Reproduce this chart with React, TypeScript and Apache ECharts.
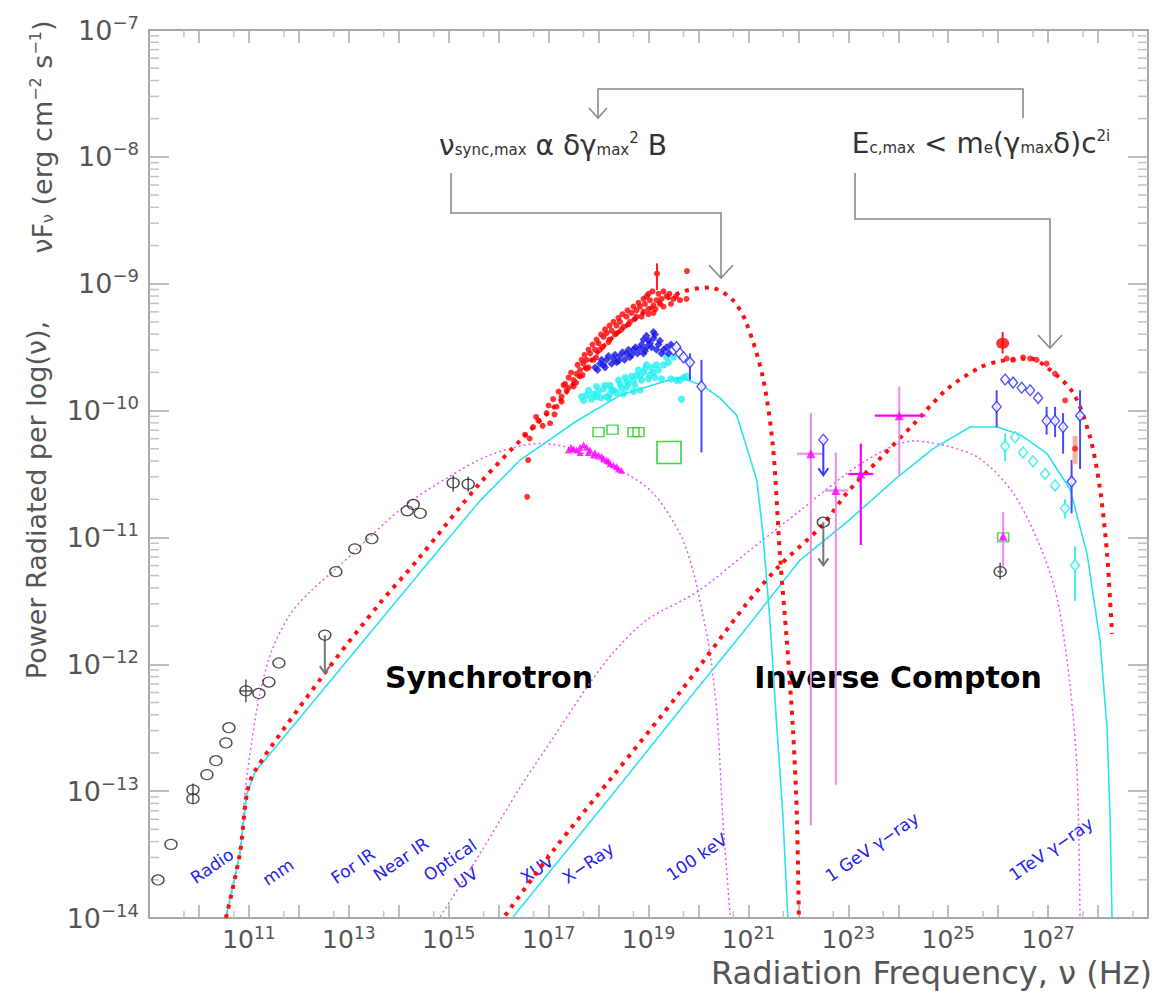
import React, { useEffect, useRef } from "react";
import * as echarts from "echarts";

// Axis ranges in log10 units
const X_MIN = 9;
const X_MAX = 29;
const Y_MIN = -14;
const Y_MAX = -7;

const xLabelExponents = [11, 13, 15, 17, 19, 21, 23, 25, 27];
const yLabelExponents = [-14, -13, -12, -11, -10, -9, -8, -7];

// ---- model curves: [log10 nu (Hz), log10 nuFnu (erg cm^-2 s^-1)] ----
const redSynchrotron = [
  [10.54, -14.0], [10.82, -13.49], [10.96, -13.02], [11.12, -12.84], [12.52, -12.07],
  [13.62, -11.52], [14.37, -11.18], [15.63, -10.57], [16.57, -10.18], [17.23, -9.92],
  [18.03, -9.52], [18.83, -9.25], [19.63, -9.07], [20.23, -9.03], [20.69, -9.13],
  [20.97, -9.32], [21.29, -9.74], [21.49, -10.28], [21.63, -11.13], [21.77, -11.82],
  [21.89, -12.5], [21.97, -13.19], [22.01, -14.0],
];
const cyanSynchrotron = [
  [10.54, -14.0], [10.82, -13.49], [10.96, -13.02], [11.12, -12.85], [14.63, -11.18],
  [15.63, -10.71], [16.43, -10.39], [17.57, -10.08], [18.43, -9.88], [19.23, -9.78],
  [19.63, -9.74], [20.07, -9.8], [20.43, -9.9], [20.77, -10.04], [21.17, -10.55],
  [21.29, -10.97], [21.43, -11.65], [21.57, -12.5], [21.69, -13.19], [21.79, -14.0],
];
const magentaSynchrotron = [
  [10.54, -14.0], [10.82, -13.49], [10.92, -13.02], [11.06, -12.6], [11.22, -12.23],
  [11.46, -11.89], [11.82, -11.61], [12.22, -11.43], [12.82, -11.22], [14.09, -10.76],
  [14.97, -10.53], [15.83, -10.35], [16.83, -10.26], [17.37, -10.29], [18.43, -10.47],
  [19.09, -10.65], [19.63, -10.97], [19.89, -11.26], [20.04, -11.52], [20.23, -11.91],
  [20.38, -12.44], [20.49, -13.23], [20.64, -14.0],
];
const redInverseCompton = [
  [16.13, -13.98], [17.09, -13.47], [18.29, -12.88], [19.63, -12.22], [20.97, -11.52],
  [21.63, -11.22], [22.49, -10.9], [22.97, -10.65], [23.63, -10.38], [24.3, -10.11],
  [24.98, -9.83], [25.64, -9.66], [26.04, -9.61], [26.64, -9.59], [26.98, -9.66],
  [27.5, -9.86], [27.84, -10.21], [28.04, -10.62], [28.18, -11.13], [28.28, -11.76],
];
const cyanInverseCompton = [
  [16.29, -13.99], [18.29, -13.02], [19.63, -12.36], [20.97, -11.71], [22.03, -11.18],
  [22.97, -10.88], [23.97, -10.53], [24.7, -10.3], [25.44, -10.13], [25.98, -10.13],
  [26.44, -10.19], [26.98, -10.34], [27.44, -10.62], [27.78, -11.13], [28.04, -11.82],
  [28.18, -12.5], [28.24, -13.19], [28.28, -14.0],
];
const magentaInverseCompton = [
  [14.83, -13.99], [15.63, -13.49], [16.43, -12.97], [17.09, -12.58], [17.77, -12.18],
  [18.29, -11.91], [18.97, -11.65], [19.97, -11.43], [20.97, -11.12], [22.03, -10.79],
  [23.29, -10.41], [24.3, -10.24], [24.98, -10.28], [25.64, -10.38], [26.3, -10.65],
  [26.84, -11.07], [27.18, -11.48], [27.44, -12.17], [27.58, -12.85], [27.64, -14.01],
];

// ---- data ----
const blackCircles = [
  [9.18, -13.7], [9.44, -13.42], [9.88, -12.99], [9.88, -13.06], [10.16, -12.87],
  [10.34, -12.76], [10.54, -12.62], [10.6, -12.5], [10.94, -12.21], [11.2, -12.23],
  [11.4, -12.14], [11.6, -11.99], [12.52, -11.77], [12.74, -11.27], [13.12, -11.09],
  [13.46, -11.01], [14.17, -10.79], [14.29, -10.74], [14.43, -10.81], [15.09, -10.57],
  [15.39, -10.58], [22.5, -10.88], [26.04, -11.27],
];
const blackErrors = [
  [10.94, -12.21, 10.82, 11.06, -12.12, -12.3],
  [9.88, -13.02, 9.88, 9.88, -12.94, -13.1],
  [15.09, -10.57, 15.09, 15.09, -10.51, -10.64],
  [15.39, -10.58, 15.39, 15.39, -10.52, -10.64],
  [26.04, -11.27, 25.99, 26.09, -11.2, -11.33],
];
const blackUpperLimits = [
  [12.52, -11.77, -12.07],
  [22.5, -10.88, -11.22],
];
const redXray = [
  [16.53, -10.19], [16.69, -10.13], [16.8, -10.08], [16.96, -10.02], [17.03, -10.1],
  [17.16, -9.97], [17.09, -9.91], [17.26, -9.89], [17.26, -9.93], [17.36, -9.84],
  [17.33, -9.79], [17.5, -9.76], [17.5, -9.81], [17.56, -9.71], [17.63, -9.68],
  [17.7, -9.63], [17.76, -9.6], [17.83, -9.55], [17.93, -9.52], [18.0, -9.47],
  [18.1, -9.42], [18.16, -9.39], [18.26, -9.37], [18.36, -9.33], [18.43, -9.3],
  [18.56, -9.26], [18.66, -9.23], [18.76, -9.21], [18.83, -9.18], [18.93, -9.16],
  [18.96, -9.1], [19.03, -9.13], [19.1, -9.17], [19.16, -9.13], [19.26, -9.12],
  [19.36, -9.1], [19.5, -9.12], [19.63, -9.13], [19.76, -9.12],
  [17.63, -9.73], [17.76, -9.67], [17.9, -9.6], [18.03, -9.52], [18.2, -9.46],
  [18.36, -9.39], [18.5, -9.34], [18.63, -9.3], [18.76, -9.26], [18.9, -9.22],
  [19.0, -9.2], [19.1, -9.23], [19.23, -9.16],
  [17.2, -9.85], [17.3, -9.8], [17.4, -9.74], [17.45, -9.7], [17.58, -9.64],
  [17.66, -9.6], [17.72, -9.56], [17.8, -9.52], [17.88, -9.48], [17.96, -9.44],
  [18.05, -9.4], [18.13, -9.36], [18.22, -9.33], [18.3, -9.3], [18.4, -9.27],
  [18.48, -9.24], [18.58, -9.21], [18.7, -9.18], [18.8, -9.15], [18.9, -9.12],
  [19.0, -9.08], [19.08, -9.06], [19.2, -9.08], [19.3, -9.06], [19.42, -9.08],
  [19.55, -9.1], [17.4, -9.82], [17.55, -9.78], [17.68, -9.72], [17.8, -9.66],
  [17.95, -9.58], [18.08, -9.5], [18.22, -9.44], [18.33, -9.4], [18.46, -9.36],
  [18.6, -9.32], [18.72, -9.28], [18.86, -9.26], [19.0, -9.24], [19.14, -9.2],
  [19.3, -9.18], [19.45, -9.16], [16.62, -10.22], [16.75, -10.05], [16.88, -10.12],
  [17.0, -9.96], [17.12, -10.03],
  [16.57, -10.68], [16.59, -10.39], [19.17, -8.92], [19.77, -8.9],
];
const redErrors = [
  [19.17, -8.92, 19.12, 19.22, -8.84, -9.05],
  [26.09, -9.47, 26.09, 26.09, -9.38, -9.55],
];
const blueXray = [
  [17.93, -9.66], [18.03, -9.63], [18.1, -9.64], [18.16, -9.6], [18.3, -9.59],
  [18.36, -9.62], [18.43, -9.57], [18.56, -9.55], [18.63, -9.58], [18.7, -9.52],
  [18.83, -9.51], [18.9, -9.55], [18.96, -9.5], [19.03, -9.47], [18.9, -9.44],
  [19.1, -9.43], [18.96, -9.41], [19.1, -9.38], [19.23, -9.45], [19.16, -9.52],
  [19.26, -9.55], [19.36, -9.5],
  [17.98, -9.68], [18.06, -9.6], [18.13, -9.66], [18.2, -9.57], [18.26, -9.63],
  [18.33, -9.56], [18.4, -9.61], [18.48, -9.54], [18.52, -9.6], [18.6, -9.52],
  [18.66, -9.56], [18.74, -9.5], [18.78, -9.55], [18.86, -9.48], [18.93, -9.53],
  [19.0, -9.45], [19.06, -9.5], [19.13, -9.4], [19.2, -9.48], [19.3, -9.52],
  [19.4, -9.55], [19.45, -9.48],
];
const blueDiamonds = [
  [19.5, -9.52], [19.56, -9.5], [19.63, -9.55], [19.7, -9.58], [19.83, -9.62],
  [20.06, -9.81], [22.5, -10.23], [25.97, -9.97], [26.14, -9.755], [26.3, -9.78],
  [26.47, -9.82], [26.64, -9.84], [26.8, -9.9], [26.97, -10.08], [27.14, -10.08],
  [27.3, -10.13], [27.64, -10.04], [27.47, -10.56],
];
const blueErrors = [
  [19.83, -9.62, 19.83, 19.83, -9.55, -9.76],
  [20.06, -9.81, 20.06, 20.06, -9.6, -10.33],
  [25.97, -9.97, 25.97, 25.97, -9.84, -10.13],
  [26.97, -10.08, 26.97, 26.97, -9.97, -10.19],
  [27.14, -10.08, 27.14, 27.14, -9.97, -10.21],
  [27.3, -10.13, 27.3, 27.3, -10.02, -10.34],
  [27.64, -10.04, 27.64, 27.64, -9.84, -10.46],
  [27.47, -10.56, 27.47, 27.47, -10.39, -10.81],
];
const blueUpperLimits = [[22.5, -10.23, -10.51]];
const cyanXray = [
  [17.66, -9.89], [17.76, -9.88], [17.9, -9.87], [17.96, -9.81], [18.1, -9.83],
  [18.23, -9.8], [18.3, -9.84], [18.43, -9.79], [18.5, -9.87], [18.56, -9.77],
  [18.7, -9.76], [18.76, -9.72], [18.83, -9.73], [18.9, -9.7], [18.96, -9.64],
  [19.03, -9.72], [19.1, -9.7], [19.16, -9.64], [19.3, -9.64], [19.36, -9.58],
  [19.5, -9.58], [19.56, -9.76], [19.63, -9.76], [19.76, -9.73], [19.66, -9.91],
  [18.83, -9.84], [18.7, -9.85], [18.16, -9.89], [17.96, -9.89], [18.23, -9.87],
  [18.56, -9.82],
  [17.7, -9.92], [17.8, -9.84], [17.86, -9.91], [18.0, -9.85], [18.05, -9.9],
  [18.13, -9.8], [18.2, -9.9], [18.26, -9.83], [18.36, -9.86], [18.4, -9.76],
  [18.46, -9.82], [18.53, -9.74], [18.6, -9.79], [18.66, -9.73], [18.73, -9.8],
  [18.8, -9.68], [18.86, -9.76], [18.93, -9.67], [19.0, -9.75], [19.06, -9.66],
  [19.13, -9.74], [19.2, -9.68], [19.26, -9.75], [19.4, -9.62], [19.45, -9.75],
  [19.7, -9.74],
];
const cyanDiamonds = [
  [26.14, -10.28], [26.34, -10.21], [26.5, -10.33], [26.7, -10.4], [26.94, -10.5],
  [27.14, -10.59], [27.34, -10.77], [27.54, -11.22],
];
const cyanErrors = [
  [26.14, -10.28, 26.14, 26.14, -10.18, -10.4],
  [27.34, -10.77, 27.34, 27.34, -10.7, -10.85],
  [27.54, -11.22, 27.48, 27.6, -11.07, -11.5],
];
const redTeV = [
  [26.17, -9.59], [26.3, -9.6], [26.5, -9.58], [26.64, -9.59], [26.77, -9.6],
  [26.97, -9.63], [27.14, -9.71], [27.34, -9.92], [27.54, -10.3],
];
const redTeVBright = [[26.09, -9.47]];
const pinkErrors = [[27.54, -10.3, 27.54, 27.54, -10.2, -10.42]];
const greenSmallSquares = [
  [18.0, -10.17], [18.28, -10.15], [18.7, -10.17], [18.8, -10.17], [26.1, -11.0],
];
const greenLargeSquares = [[19.41, -10.33]];
const magentaUV = [
  [17.4, -10.31], [17.5, -10.3], [17.56, -10.31], [17.63, -10.29], [17.7, -10.27],
  [17.76, -10.29], [17.83, -10.31], [17.93, -10.33], [18.0, -10.35], [18.06, -10.36],
  [18.16, -10.39], [18.23, -10.42], [18.3, -10.43], [18.36, -10.44], [18.46, -10.47],
  [17.63, -10.33], [17.9, -10.35], [18.1, -10.38], [17.45, -10.29], [17.8, -10.33],
  [18.2, -10.4], [18.4, -10.46],
];
const egretTriangles = [
  [22.25, -10.34], [22.75, -10.63], [23.25, -10.5], [24.02, -10.04], [26.1, -10.99],
];
const egretErrorsLight = [
  [22.25, -10.34, 21.97, 22.5, -10.02, -13.27],
  [22.75, -10.63, 22.53, 23.0, -10.33, -12.95],
  [24.02, -10.04, 24.02, 24.02, -9.81, -10.52],
  [26.1, -10.99, 26.1, 26.1, -10.8, -11.23],
];
const egretErrorsStrong = [
  [23.25, -10.5, 23.0, 23.5, -10.26, -11.06],
  [24.02, -10.04, 23.53, 24.54, -10.04, -10.04],
];

// band names along the frequency axis
const bandNames = [
  { t: "Radio", x: 212, y: 866 }, { t: "mm", x: 278, y: 872 },
  { t: "For IR", x: 353, y: 866 }, { t: "Near IR", x: 401, y: 859 },
  { t: "Optical", x: 450, y: 860 }, { t: "UV", x: 466, y: 878 },
  { t: "XUV", x: 537, y: 869 }, { t: "X\u2212Ray", x: 588, y: 863 },
  { t: "100 keV", x: 697, y: 857 }, { t: "1 GeV \u03b3\u2212ray", x: 872, y: 847 },
  { t: "1TeV \u03b3\u2212ray", x: 1051, y: 849 },
];

const FONT = "DejaVu Sans";
const AXIS = "#a8a8a8";
const TXT = "#555555";

function errorSeries(data: number[][], color: string, width: number) {
  return {
    type: "custom",
    silent: true,
    z: 4,
    dimensions: ["x", "y", "xl", "xh", "yl", "yh"],
    encode: { x: 0, y: 1 },
    data,
    renderItem: (_p: any, api: any) => {
      const c = api.coord([api.value(0), api.value(1)]);
      const xl = api.coord([api.value(2), api.value(1)]);
      const xh = api.coord([api.value(3), api.value(1)]);
      const yl = api.coord([api.value(0), api.value(4)]);
      const yh = api.coord([api.value(0), api.value(5)]);
      const st = { stroke: color, lineWidth: width };
      return {
        type: "group",
        children: [
          { type: "line", shape: { x1: xl[0], y1: c[1], x2: xh[0], y2: c[1] }, style: st },
          { type: "line", shape: { x1: c[0], y1: yl[1], x2: c[0], y2: yh[1] }, style: st },
        ],
      };
    },
  };
}

function limitSeries(data: number[][], color: string) {
  return {
    type: "custom",
    silent: true,
    z: 4,
    dimensions: ["x", "y", "y2"],
    encode: { x: 0, y: 1 },
    data,
    renderItem: (_p: any, api: any) => {
      const a = api.coord([api.value(0), api.value(1)]);
      const b = api.coord([api.value(0), api.value(2)]);
      const st = { stroke: color, lineWidth: 2, fill: "none" };
      return {
        type: "group",
        children: [
          { type: "line", shape: { x1: a[0], y1: a[1], x2: b[0], y2: b[1] }, style: st },
          {
            type: "polyline",
            shape: { points: [[b[0] - 5, b[1] - 7], [b[0], b[1]], [b[0] + 5, b[1] - 7]] },
            style: st,
          },
        ],
      };
    },
  };
}

function minorTickSeries() {
  const ys: number[][] = [];
  for (let n = Y_MIN; n < Y_MAX; n++) {
    for (let k = 2; k <= 9; k++) ys.push([X_MIN, n + Math.log10(k)]);
  }
  const xs: number[][] = [];
  for (let n = X_MIN; n < X_MAX; n++) xs.push([n + Math.log10(5), Y_MIN]);
  const st = { stroke: "#c4c4c4", lineWidth: 1.5 };
  return [
    {
      type: "custom",
      silent: true,
      z: 1,
      data: ys,
      renderItem: (_p: any, api: any) => {
        const l = api.coord([X_MIN, api.value(1)]);
        const r = api.coord([X_MAX, api.value(1)]);
        return {
          type: "group",
          children: [
            { type: "line", shape: { x1: l[0], y1: l[1], x2: l[0] + 10, y2: l[1] }, style: st },
            { type: "line", shape: { x1: r[0], y1: r[1], x2: r[0] - 10, y2: r[1] }, style: st },
          ],
        };
      },
    },
    {
      type: "custom",
      silent: true,
      z: 1,
      data: xs,
      renderItem: (_p: any, api: any) => {
        const b = api.coord([api.value(0), Y_MIN]);
        const t = api.coord([api.value(0), Y_MAX]);
        return {
          type: "group",
          children: [
            { type: "line", shape: { x1: b[0], y1: b[1], x2: b[0], y2: b[1] - 7 }, style: st },
            { type: "line", shape: { x1: t[0], y1: t[1], x2: t[0], y2: t[1] + 7 }, style: st },
          ],
        };
      },
    },
  ];
}

function lineSeries(data: number[][], color: string, width: number, type: any, smooth: number) {
  return {
    type: "line",
    data,
    showSymbol: false,
    silent: true,
    z: 2,
    smooth,
    lineStyle: { color, width, type, cap: "butt" },
  };
}

function scatter(data: number[][], symbol: string, size: any, itemStyle: any, z = 3) {
  return { type: "scatter", data, symbol, symbolSize: size, itemStyle, silent: true, z };
}

function buildOption() {
  const richLabel = {
    b: { fontSize: 25, fontFamily: FONT, color: TXT },
    e: { fontSize: 17, fontFamily: FONT, color: TXT, padding: [0, 0, 13, 0] },
  };
  const xAxisBase = {
    type: "value",
    min: X_MIN,
    max: X_MAX,
    interval: 1,
    axisLine: { lineStyle: { color: AXIS, width: 2 } },
    axisTick: { inside: true, length: 13, lineStyle: { color: AXIS, width: 1.5 } },
    splitLine: { show: false },
  };
  const yAxisBase = {
    type: "value",
    min: Y_MIN,
    max: Y_MAX,
    interval: 1,
    axisLine: { lineStyle: { color: AXIS, width: 2 } },
    axisTick: { inside: true, length: 20, lineStyle: { color: AXIS, width: 1.5 } },
    splitLine: { show: false },
  };
  const gStroke = { stroke: "#8a8a8a", lineWidth: 1.6, fill: "none" };
  const formulaRich = {
    g: { fontSize: 28, fontFamily: FONT, fill: "#333" },
    s: { fontSize: 15, fontFamily: FONT, fill: "#333", padding: [10, 0, 0, 0] },
    p: { fontSize: 15, fontFamily: FONT, fill: "#333", padding: [0, 0, 14, 0] },
  };
  const graphic: any[] = [
    { type: "polyline", shape: { points: [[598, 118], [598, 89], [1023, 89], [1023, 118]] }, style: gStroke },
    { type: "polyline", shape: { points: [[589, 108], [598, 118], [607, 108]] }, style: gStroke },
    { type: "polyline", shape: { points: [[451, 173], [451, 213], [721, 213], [721, 278]] }, style: gStroke },
    { type: "polyline", shape: { points: [[709, 265], [721, 278], [733, 265]] }, style: gStroke },
    { type: "polyline", shape: { points: [[855, 173], [855, 219], [1050, 219], [1050, 348]] }, style: gStroke },
    { type: "polyline", shape: { points: [[1038, 335], [1050, 348], [1062, 335]] }, style: gStroke },
    {
      type: "text", x: 553, y: 145,
      style: {
        text: "{g|\u03bd}{s|sync,max}{g| \u03b1 \u03b4\u03b3}{s|max}{p|2}{g| B}",
        rich: formulaRich, align: "center", verticalAlign: "middle",
      },
    },
    {
      type: "text", x: 981, y: 143,
      style: {
        text: "{g|E}{s|c,max}{g| < m}{s|e}{g|(\u03b3}{s|max}{g|\u03b4)c}{p|2i}",
        rich: formulaRich, align: "center", verticalAlign: "middle",
      },
    },
    {
      type: "text", x: 489, y: 677,
      style: { text: "Synchrotron", fontSize: 30, fontWeight: "bold", fontFamily: FONT, fill: "#000", align: "center", verticalAlign: "middle" },
    },
    {
      type: "text", x: 898, y: 677,
      style: { text: "Inverse Compton", fontSize: 30, fontWeight: "bold", fontFamily: FONT, fill: "#000", align: "center", verticalAlign: "middle" },
    },
    {
      type: "text", x: 1152, y: 973,
      style: { text: "Radiation Frequency, \u03bd (Hz)", fontSize: 32, fontFamily: FONT, fill: TXT, align: "right", verticalAlign: "middle" },
    },
    {
      type: "text", x: 36, y: 500, rotation: Math.PI / 2,
      style: { text: "Power Radiated per log(\u03bd),", fontSize: 27, fontFamily: FONT, fill: TXT, align: "center", verticalAlign: "middle" },
    },
    {
      type: "text", x: 42, y: 137, rotation: Math.PI / 2,
      style: {
        text: "{m|\u03bdF}{d|\u03bd}{m| (erg cm}{u|\u22122}{m| s}{u|\u22121}{m|)}",
        align: "center", verticalAlign: "middle",
        rich: {
          m: { fontSize: 27, fontFamily: FONT, fill: TXT },
          d: { fontSize: 16, fontFamily: FONT, fill: TXT, padding: [11, 0, 0, 0] },
          u: { fontSize: 16, fontFamily: FONT, fill: TXT, padding: [0, 0, 13, 0] },
        },
      },
    },
  ];
  for (const b of bandNames) {
    graphic.push({
      type: "text", x: b.x, y: b.y, rotation: 0.6,
      style: { text: b.t, fontSize: 17, fontFamily: FONT, fill: "#2323ee", align: "center", verticalAlign: "middle" },
    });
  }

  const openCircle = { color: "rgba(255,255,255,0)", borderColor: "#222", borderWidth: 1.3 };
  return {
    animation: false,
    backgroundColor: "#ffffff",
    grid: { left: 149, top: 30, right: 11, bottom: 77, containLabel: false },
    xAxis: [
      {
        ...xAxisBase,
        position: "bottom",
        axisLabel: {
          margin: 6,
          formatter: (v: number) => {
            const n = Math.round(v);
            return xLabelExponents.includes(n) ? `{b|10}{e|${n}}` : "";
          },
          rich: richLabel,
        },
      },
      { ...xAxisBase, position: "top", axisLabel: { show: false } },
    ],
    yAxis: [
      {
        ...yAxisBase,
        position: "left",
        axisLabel: {
          margin: 10,
          formatter: (v: number) => {
            const n = Math.round(v);
            return yLabelExponents.includes(n) ? `{b|10}{e|\u2212${-n}}` : "";
          },
          rich: {
            b: { fontSize: 27, fontFamily: FONT, color: TXT },
            e: { fontSize: 18, fontFamily: FONT, color: TXT, padding: [0, 0, 16, 0] },
          },
        },
      },
      { ...yAxisBase, position: "right", axisLabel: { show: false } },
    ],
    graphic,
    series: [
      ...minorTickSeries(),
      lineSeries(magentaSynchrotron, "#ee55ee", 1.5, [2, 3], 0.3),
      lineSeries(magentaInverseCompton, "#ee55ee", 1.5, [2, 3], 0.3),
      lineSeries(cyanSynchrotron, "#2ae3ec", 1.6, "solid", 0),
      lineSeries(cyanInverseCompton, "#2ae3ec", 1.6, "solid", 0),
      lineSeries(redSynchrotron, "#ff1010", 4, [4, 6], 0.3),
      lineSeries(redInverseCompton, "#ff1010", 4, [4, 6], 0.3),
      errorSeries(egretErrorsLight, "#ee88ee", 2),
      errorSeries(egretErrorsStrong, "#ff00ff", 2.2),
      errorSeries(blackErrors, "#555", 1.5),
      errorSeries(blueErrors, "#4a4aff", 2),
      errorSeries(cyanErrors, "#44eeee", 2),
      errorSeries(redErrors, "#ff2020", 2),
      errorSeries(pinkErrors, "#f5b3a8", 5),
      limitSeries(blackUpperLimits, "#777"),
      limitSeries(blueUpperLimits, "#3a3aff"),
      scatter(magentaUV, "triangle", 7, { color: "#ff00ff" }),
      scatter(greenSmallSquares, "rect", [11, 9], { color: "rgba(255,255,255,0)", borderColor: "#22cc22", borderWidth: 1.4 }),
      scatter(greenLargeSquares, "rect", [24, 22], { color: "rgba(255,255,255,0)", borderColor: "#11cc11", borderWidth: 1.6 }),
      scatter(cyanXray, "circle", 7, { color: "#22f0f0" }),
      scatter(blueXray, "diamond", 8, { color: "#1515e6" }),
      scatter(redXray, "circle", 6, { color: "#ff0000" }),
      scatter(blueDiamonds, "diamond", [9, 11], { color: "#ffffff", borderColor: "#2b2bff", borderWidth: 1.4 }, 5),
      scatter(cyanDiamonds, "diamond", [9, 11], { color: "#ffffff", borderColor: "#33e8e8", borderWidth: 1.6 }, 5),
      scatter(egretTriangles, "triangle", 9, { color: "#ff00ff" }, 5),
      scatter(redTeV, "circle", 6, { color: "#ff1010" }, 5),
      scatter(redTeVBright, "circle", [13, 11], { color: "#ff0000" }, 5),
      scatter(blackCircles, "circle", [12, 10], openCircle, 5),
    ],
  };
}

export default function App() {
  const ref = useRef<HTMLDivElement>(null);
  useEffect(() => {
    if (!ref.current) return;
    const chart = echarts.init(ref.current, null, { renderer: "svg" });
    chart.setOption(buildOption() as any);
    return () => chart.dispose();
  }, []);
  return (
    <div
      ref={ref}
      style={{ position: "absolute", left: 0, top: 0, width: 1159, height: 995, background: "#fff" }}
    />
  );
}
